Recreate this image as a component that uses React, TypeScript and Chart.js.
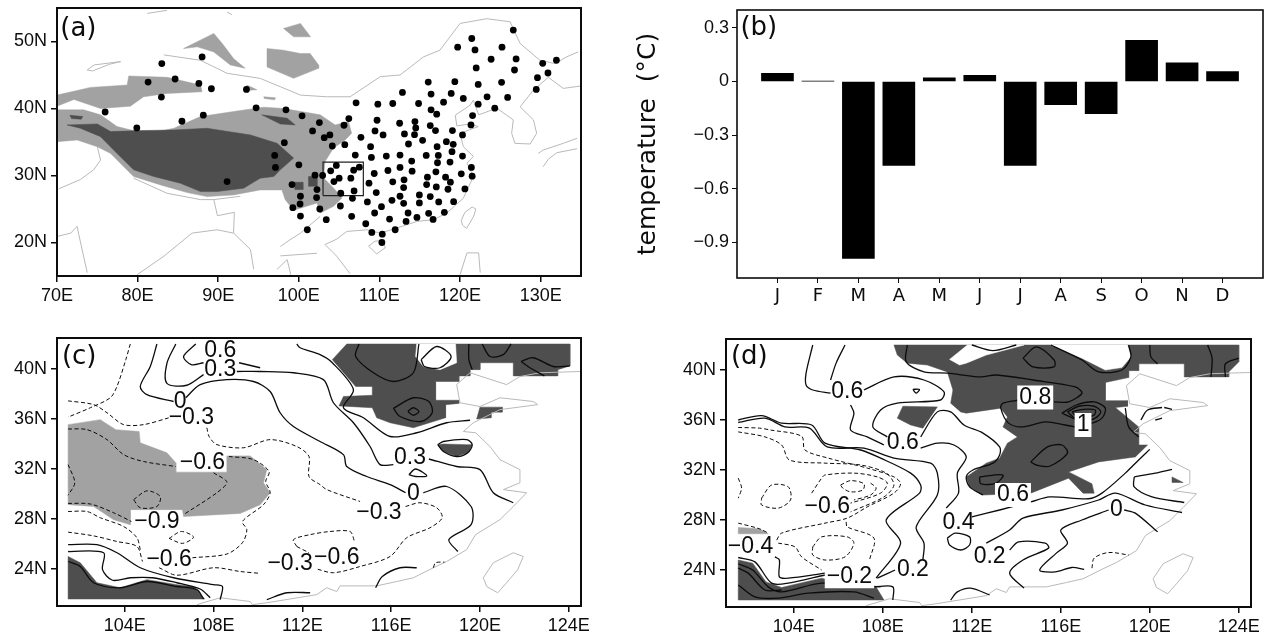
import React, { useEffect, useRef } from "react";
import { Chart, registerables } from "chart.js";
Chart.register(...registerables);

type P = [number, number];
type Note = { x: number; y: number; t: string; box?: boolean; tag?: boolean };

// ---------- panel (a): stations ----------
const stations: P[] = [
  [75.97,39.48],[79.9,37.1],[83,46.7],[81.3,43.95],[84.65,44.4],[82.95,41.7],[88,47.7],[87.6,43.75],[89.15,42.95],[93.5,42.85],
  [94.7,40.1],[85.5,38.1],[88.15,39],[91.1,29.1],[98.4,39.8],[100.4,38.9],[101.7,36.65],[102.55,37.9],[98.2,34.9],[97,33],
  [97.1,31.2],[100,31.6],[102,30.05],[99.15,28.65],[102.25,27.9],[100.2,26.9],[102.2,26.7],[100.15,25.75],[99.25,25.2],[102.6,25],
  [100.2,23.95],[101.05,21.9],[103.15,35.65],[103.85,36.05],[105.6,37.5],[106.2,38.5],[104.15,34.4],[105.7,34.6],[107.1,40.85],
  [109.8,40.65],[111.65,40.75],[112.85,42.4],[114.85,40.75],[116.05,43.95],[116.4,42.15],[119.35,44],[118.9,42.25],[117.95,40.95],
  [120.4,41.5],[122.25,43.6],[122,46.05],[121.85,48.75],[121.45,50.45],[119.7,49.15],[126.6,51.7],[125.2,49.15],[123.85,47.35],
  [126.95,47.4],[126.75,45.75],[125.15,43.9],[123.35,41.75],[122.25,40.65],[125.9,41.65],[124.3,40.05],[130.25,46.75],[131.95,47.2],
  [130.9,45.3],[129.6,44.6],[129.45,42.85],[116.4,39.8],[117.1,39.15],[121.55,38.95],[121.35,37.55],[120.3,36.05],[119.05,36.7],
  [109.7,38.25],[112.5,37.8],[114.4,38.05],[114.5,37.1],[116.3,37.45],[116.95,36.7],[109.45,36.65],[110.45,36.05],[113.1,36.2],
  [114.35,36.1],[107.7,35.7],[113.6,34.7],[115.35,35.25],[118.3,35.05],[119.15,34.65],[119,33.55],[117.15,34.3],[108.9,34.3],
  [107,33.05],[109,32.7],[110.85,32.9],[112.55,33.05],[115.8,33],[117.3,33],[117.2,31.9],[120.3,32.9],[114,32.15],[118.75,32],
  [121.4,31.2],[104.65,31.5],[103.95,30.7],[106.8,30.8],[107.5,31.25],[102.95,30],[105,29.6],[104.35,29.1],[106.45,29.6],[109.35,30.3],
  [111.05,30.75],[112.55,31.2],[114.05,30.65],[117,30.55],[120.15,30.25],[121.5,29.9],[115.95,29.75],[118.2,29.75],[118.8,29],
  [113.05,29.35],[108.7,28.85],[111.65,29.05],[115.85,28.65],[117.05,28.3],[113,28.2],[118.5,27.95],[120.6,28],[105.2,27.35],
  [106.85,27.7],[109.6,27.45],[106.65,26.6],[114.95,27.1],[116.3,26.85],[112.55,26.9],[111.55,26.3],[108.5,26.05],[113,25.85],
  [114.95,25.9],[117.35,26.05],[119.2,26.1],[110.25,25.35],[105.15,25.45],[109.4,24.4],[113.55,24.4],[116.1,24.35],[118.05,24.5],
  [106.55,23.9],[103.4,23.4],[111.25,23.5],[114.65,23.75],[113.3,23.15],[116.65,23.45],[108.3,22.8],[111.95,21.9],[109.05,21.5],
  [110.35,21.25],[110.3,20],
];
const studyBox: P[] = [[103,27],[108,27],[108,32],[103,32],[103,27]];

const lightA: P[][] = [
  [[70,39.8],[73.3,39.8],[75.4,39.05],[77.45,37.3],[81.2,36.2],[84.5,37.05],[87.8,38.8],[91.9,39.55],[95.65,40.2],[98.1,40],[102.65,39.05],[104.5,37.55],[106.15,38.05],[106.55,36.3],[105.75,35.3],[104.3,34.1],[103.25,32.1],[103.05,29.65],[104.3,28.15],[105.35,26.65],[104.3,25.4],[102.65,24.4],[102.25,25.9],[99.35,24.8],[98.3,26.4],[97.9,27.85],[95.2,27.85],[91.9,27.1],[88.6,26.85],[86.15,27.45],[82.85,28.6],[79.5,29.85],[76.65,33.3],[75,34.3],[72.5,35.3],[70,35.05]],
  [[70,42],[74.15,43.15],[78.7,43.5],[78.9,44.85],[83.65,44.65],[87.8,43.5],[88,42.5],[83.65,42.25],[80.75,41.75],[79.1,40.35],[75.4,40],[72.1,41.35],[70,40.35]],
  [[85.7,48.95],[89.45,51.2],[90.5,49.7],[91.9,47.45],[93.35,46],[91.5,46.5],[89.45,48.45],[87.4,49.2]],
  [[96.05,48.95],[98.1,48.7],[100.2,48.2],[101.4,48.2],[102.45,46.5],[102.45,46],[99.35,44.5],[96.05,46.2]],
  [[98.1,51.95],[100.2,52.7],[101.45,50.7],[99.35,50.7]],
  [[93.55,43.5],[94.8,42.8],[93.5,42.7]],
  [[95.65,41.75],[97.1,41.6],[97,41.3],[95.7,41.5]],
];
const darkA: P[][] = [
  [[71.25,37.55],[75,37.7],[76.65,36.55],[80.35,36.7],[84.5,36.8],[88.6,37.05],[94,36.05],[97.3,34.8],[99.35,32.6],[97.7,30.85],[96.9,29.85],[95.2,29.6],[93.15,28.1],[89.85,27.6],[87.8,27.6],[85.3,28.85],[82,29.85],[79.5,30.85],[77.45,33.3],[75.4,35.8],[72.9,37.05]],
  [[95.4,39.05],[98.55,38.55],[99.55,37.55],[97.7,37.7]],
  [[101.2,29.85],[102.25,29.85],[102.25,28.4],[101.2,28.4]],
  [[99.5,29],[100.5,29],[100.5,27.9],[99.5,27.9]],
  [[71.6,39],[73.2,38.8],[73,38.4],[71.8,38.5]],
];
const coastA: P[][] = [
  [[106.35,15.35],[104.7,17.95],[103.25,19.7],[104.7,20.5],[105.95,21.65],[108.45,21.9],[110.1,21.4],[112.15,22.15],[114.65,23.15],[116.7,23.4],[118.35,24.4],[120.4,26.6],[121.65,29.85],[120.85,31.85],[121.65,32.85],[120.4,34.3],[120,36.3],[122.25,37.3],[121.25,37.7],[119.6,37.4],[119.4,39],[121.25,40.5],[121.65,41.25],[122.3,39.05],[124.55,40.05],[126.6,38.3],[126.4,36.3],[126.8,34.8],[128.7,34.7],[129.5,36.3],[129.1,38.3],[127.45,40.25],[129.1,42.75],[130.95,44.65],[132.8,43],[134.9,43.35]],
  [[120.15,23.3],[120.6,24.5],[121.5,25.3],[121.95,25],[121.7,23.95],[121.2,22.9],[120.8,22.1],[120.3,22.6],[120.15,23.3]],
  [[108.65,19.45],[109.45,20.2],[110.5,20.3],[110.7,19.2],[109.65,18.3],[108.65,19.45]],
  [[120,15.2],[120.85,18.45],[122.3,18.45],[122.5,15.5]],
  [[70.2,28],[72.9,29.4],[74.55,30.85],[75.4,32.3],[75,34.3]],
  [[79.5,29.6],[83.65,27.35],[87.8,26.4],[89.45,26.4],[92.75,26.9]],
  [[79.95,15.2],[83.25,17.95],[86.75,21.4],[89.85,21.9],[91.9,21.4],[94,18.95],[94.4,16]],
  [[97.3,16],[98.55,17.45],[99,15.2]],
  [[70,20.9],[71.7,21.4],[72.5,22.4],[72.7,21.2],[73.75,15.5]],
  [[89.45,26.4],[89.9,24],[92,24.5],[91.9,21.4]],
  [[97.7,19.4],[98.9,20.4],[100.2,21.4],[102.65,23.9]],
  [[97.7,18],[102.25,18.4]],
  [[73.75,45.75],[74.6,46.5],[77.9,47],[76.5,46.6],[74.4,45.6],[73.75,45.75]],
  [[81.2,54.2],[83.65,54.65]],
  [[91.1,54.4],[91.7,54]],
  [[83.25,48],[87.8,47.2],[91.1,45.25],[95.2,44.5],[100.2,42],[103.45,41.75],[106.35,41.75],[110.1,44.75],[112.55,45],[115.45,47.7],[117.5,48.7],[120,52.7],[123.3,53.4],[126.2,52.95],[127.45,49.7],[129.9,47.2],[131.8,46.7],[133.2,47.7],[134.65,48.45]],
  [[129.7,33.3],[130.3,33.8],[132.8,34.8],[134.5,35.55]],
  [[130.3,31.3],[131,32.5],[132,33.4],[134.5,34]],
];

// ---------- panel (b): monthly anomaly ----------
const monthLabels = ["", "J", "F", "M", "A", "M", "J", "J", "A", "S", "O", "N", "D", ""];
const monthValues = [null, 0.045, 0.002, -0.99, -0.47, 0.02, 0.035, -0.47, -0.13, -0.18, 0.23, 0.105, 0.055, null];
const barTicks = [0.3, 0, -0.3, -0.6, -0.9];

// ---------- shared map lines for (c), (d) ----------
const coastZoom: P[][] = [
  [[107.25,21.15],[108.3,21.7],[109.65,21.4],[109.75,21.15],[110.4,21.3],[112.65,21.95],[113.1,22.5],[113.55,22.2],[113.7,22.65],[115.35,22.65],[116.25,23],[117,23.3],[117.9,24.1],[118.5,24.6],[119.4,25.55],[119.8,26.75],[120.9,27.95],[121.5,29],[122.1,30.1],[121.05,30.35],[121.8,30.9],[121.8,31.95],[120.9,32.75],[120.45,33.8],[119.8,34.9],[119.25,35],[119.7,35.7],[120.9,36.75],[122.6,37.15],[122.4,37.4],[120.9,37.7],[120,37],[119.1,37.3],[118.95,38.75],[119.55,39.7],[121.2,38.75],[121.8,39.4],[122.7,39.7],[124.5,39.8]],
  [[120.15,23.3],[120.6,24.5],[121.5,25.3],[121.95,25],[121.7,23.95],[121.2,22.9],[120.8,22.1],[120.3,22.6],[120.15,23.3]],
];

// ---------- panel (c) ----------
const lightC: P[][] = [
  [[101.45,35.55],[102.9,35.95],[103.6,35.15],[104.65,35],[104.7,34.1],[105.9,33.3],[106.3,32.5],[106.3,31.75],[108.6,31.75],[108.6,33.05],[109.65,33.05],[110.4,31.95],[110.25,30.9],[110.55,30.1],[110.1,29.15],[109.2,28.45],[106.65,28.2],[106.6,28.75],[104.25,28.75],[104.25,27.55],[103.5,27.95],[102.6,29],[101.45,29.15]],
];
const darkC: P[][] = [
  [[101.45,25],[102,24.5],[102.75,22.9],[103.8,22.5],[105,23.15],[106.35,22.75],[107.1,22.6],[107.6,21.6],[101.45,21.6]],
  [[114,42],[124.05,42],[124.05,40.25],[123.5,39.95],[123.5,39.45],[121.5,39.45],[121.5,40.5],[120,40.5],[120,39.95],[119.55,39.95],[119.55,39.45],[119.05,39.45],[119.05,39],[118,39],[118,37.5],[119.05,37.5],[119.05,37.25],[118.45,37.15],[118.45,36.1],[117,35.3],[115.95,35.7],[115.35,36.1],[115.15,36.9],[113.65,37.05],[113.85,37.8],[115.15,37.9],[115.15,38.6],[114.4,38.6],[113.35,40.75]],
  [[120,36.95],[121,36.95],[121,36.55],[120.5,36.55],[120.5,36.1],[119.85,36]],
  [[118.1,33.95],[118.35,34],[119.4,33.95],[119.65,33.95],[119.45,33.3],[118.95,33],[118.35,33.4]],
];
const holesC: P[][] = [
  [[117.15,42],[117.1,41],[117.45,40.2],[118.2,39.95],[118.95,40.5],[118.9,42]],
];
const solidC: P[][] = [
  [[105.45,42],[105.15,40.2],[104.7,38.6],[105,37.95],[106.2,37.4]],
  [[106.75,37.7],[107.4,38.75],[108.6,39.15],[109.8,39],[110.55,38.2],[111,36.5],[111.6,35.4],[112.8,34.2],[113.85,33.15],[114,32.2],[114.9,31.4],[115.95,30.75],[116.65,30.1]],
  [[117.45,30.1],[118.5,30.6],[119.6,29],[119.6,27.55],[118.6,26.35],[119,25.4]],
  [[106.3,42],[105.9,40.45],[105.9,38.85],[106.8,38.7],[107.55,39.55]],
  [[109.05,39.8],[110.1,39.8],[111.6,39.7],[112.95,39.15],[113.4,37.3],[114.3,35.7],[115.05,33.8],[115.5,32.35],[116.1,32.35]],
  [[117.7,32.8],[118.95,32.2],[120,31.95],[120.6,30.1],[121.5,29.3]],
  [[107.2,42],[106.65,41],[107,40.35],[107.55,40.5]],
  [[109.15,40.5],[110.1,40.1]],
  [[111.75,42],[111.9,41.7],[112.8,41.15],[113.35,40.5],[114.3,38.35],[113.85,36.9],[114.75,36.1],[115.95,34.6],[117.15,34.9],[118.5,35.7],[119.55,35.9]],
  [[114.55,42],[114.4,41],[115.2,39.7],[116.1,39],[117,39.7],[117.25,42]],
  [[116.1,36.85],[117,37.7],[117.7,37.4],[117.85,36.5],[117.35,35.8],[116.4,36.2],[116.1,36.85]],
  [[116.75,36.6],[117,36.9],[117.25,36.6],[117,36.3],[116.75,36.6]],
  [[117.35,40.75],[118.05,41.8],[118.7,41],[118.2,40.1],[117.5,40.2],[117.35,40.75]],
  [[119.5,42],[119.5,40.75],[119.65,39.95]],
  [[120.1,42],[120.45,41],[121.05,41.15],[121.4,42]],
  [[121.85,40.6],[122.4,40.9],[123.3,40.2],[124.05,40.25]],
  [[121.85,40.6],[122.25,40.1],[122.9,39.45]],
  [[118.1,33.95],[118.35,34.2],[119.4,34.35],[119.65,33.95],[119.45,33.3],[118.95,33],[118.35,33.4],[118.1,33.95]],
  [[116.8,31.55],[117.1,32],[117.6,31.45],[117.1,31.4],[116.8,31.55]],
  [[115.3,22.5],[115.6,23.4],[116.4,24.1],[117.15,24.1]],
  [[101.45,25.4],[103.05,25.3],[103,23.95],[103.45,23.1],[104.25,23.3],[105.25,23.3],[106.35,22.9],[107.4,22.4],[107.85,21.7]],
  [[101.45,25.95],[102.75,25.95],[103.65,25.3],[104.7,24.1],[106.2,23.3],[108,22.75],[108.4,22.6],[108.3,21.55]],
  [[101.45,24.6],[102,24.2],[102.6,22.9],[103.8,22.5],[105,23],[106.35,22.6],[107.25,22.35],[107.55,21.6]],
  [[110.4,21.55],[111.3,22.1],[112.35,22.1]],
];
const dashedC: P[][] = [
  [[104.25,42],[104.05,40.75],[103.65,38.6],[103.35,37.7],[102.45,36.9],[101.45,36.15]],
  [[101.45,37.45],[102.6,37.15],[103.2,36.5],[103.95,35.55],[104.85,35.55],[106,36.1]],
  [[107.7,35.3],[107.8,34.6],[108.15,33.95],[109.35,33.7],[110.55,34.35],[111.75,33.8],[112.3,33],[112.3,31.4],[112.8,30.75],[113.1,30.35],[114.6,29.4]],
  [[116.65,29],[117.3,29.3],[118.05,28.9],[118.3,28.1],[117.75,27.3],[116.7,26.5],[115.95,25],[114.6,24.2],[113.4,23.7],[112.65,24]],
  [[111.75,25.8],[111.6,26.35],[112.35,26.75],[113.25,27],[114.15,27],[114.35,26.2]],
  [[111.75,25.8],[112.3,25.3]],
  [[101.45,26.95],[102.6,26.65],[103.65,26.2],[104.55,25.8],[104.8,24.6]],
  [[107.05,24.9],[108.6,25.2],[109.3,26.1],[109.5,27.15],[109.3,27.8],[110.25,29.15],[110.55,30.1],[110.35,31],[110.5,31.8],[109.8,32.75],[108.7,33]],
  [[101.45,28.6],[102.3,28.6],[102.9,28.1],[103.95,27.4],[104.55,26.5],[104.7,25.55]],
  [[105.55,24.1],[106.35,23.5],[108,24.1],[109.2,23.8],[110.1,23.65]],
  [[101.45,35.2],[102.3,35.15],[103.2,34.35],[103.95,33.15],[104.85,32.6],[106.3,32.2]],
  [[108,31.7],[108.6,30.95],[108.15,30.1],[106.65,28.35]],
  [[101.45,29.25],[102.45,29.2],[103.5,28.5],[104.3,27.8]],
  [[104.4,29.55],[105,30.25],[105.6,29.8],[105.45,29],[104.7,28.9],[104.4,29.55]],
  [[101.45,32.35],[101.75,30.9],[101.45,29.9]],
  [[106,26.45],[106.55,27],[107.1,26.55],[106.6,26.05],[106,26.45]],
  [[117.9,24.1],[118,24.5],[118.4,24.55]],
];
const notesC: Note[] = [
  { x: 101.95, y: 40.95, t: "(c)", tag: true },
  { x: 108.3, y: 41.5, t: "0.6" },
  { x: 108.3, y: 39.95, t: "0.3" },
  { x: 106.5, y: 37.4, t: "0" },
  { x: 107, y: 36.1, t: "−0.3" },
  { x: 107.5, y: 32.5, t: "−0.6" },
  { x: 105.45, y: 27.75, t: "−0.9" },
  { x: 106, y: 24.75, t: "−0.6" },
  { x: 111.45, y: 24.4, t: "−0.3" },
  { x: 113.55, y: 24.9, t: "−0.6" },
  { x: 115.45, y: 28.5, t: "−0.3" },
  { x: 117, y: 30, t: "0" },
  { x: 116.85, y: 32.9, t: "0.3" },
];

// ---------- panel (d) ----------
const lightD: P[][] = [
  [[101.5,27.4],[102.45,27.3],[102.85,26.9],[101.5,26.9]],
];
const darkD: P[][] = [
  [[108.5,42],[124,42],[124,40.65],[123.55,39.85],[123.55,39.45],[121.55,39.45],[121.55,40.5],[119.5,40.5],[119.5,39.95],[119.05,39.95],[119.05,39.4],[118,39],[118,37.55],[119,37.55],[119,37.1],[118.45,37],[119.5,35.45],[119.5,34],[119.9,34],[119.35,33.05],[118.75,32.9],[117.7,32.65],[116.35,31.85],[117.4,30.9],[117.5,30.15],[117,30.15],[116.35,31.35],[114.65,30.15],[112.5,30],[111.9,30.65],[111.75,31.45],[112.65,32.55],[113.25,32.95],[113.6,34.15],[114.05,34.65],[113.4,35.45],[113.6,36.25],[113.3,36.95],[111.75,36.55],[111.5,36.65],[111.05,37.35],[111.15,38.4],[110.9,39.85],[110,40.4],[109.1,40.55],[108.65,41.2]],
  [[108.9,37.1],[110.45,37.05],[109.8,35.35],[109.25,35.6],[108.65,36.15]],
  [[121,31.45],[121.5,31],[121,31]],
  [[101.5,24.8],[102.15,24.55],[102.75,23.05],[103.45,22.6],[105.25,23.35],[106.1,22.95],[107.7,22.65],[108.05,21.6],[101.5,21.6]],
];
const holesD: P[][] = [
  [[111,40.85],[111.8,42],[114.35,42],[112.65,41.2],[111.75,40.55],[111.45,40.4]],
  [[115.55,42],[116.95,40.95],[118,40],[118.75,40.2],[119.15,41.05],[119,42]],
];
const solidD: P[][] = [
  [[104.85,42],[104.55,39.75],[104.55,38.8],[104.85,38.4],[105.65,38.15]],
  [[106.3,42],[105.9,40.55],[105.65,39.2]],
  [[106.55,37.2],[106.7,36.55],[106.55,35.2],[107.3,34.65],[108.05,34]],
  [[107.15,38.4],[108.5,39.45],[109.85,39.2],[110.75,38.25],[110.6,37.6],[108.65,37.35],[107.9,36.8],[107.55,35.45],[108.2,34.65]],
  [[109.7,34.65],[110.45,36.65],[111.05,36.65],[111.65,35.6],[112.5,34.95],[113.25,33.85],[113.25,33.2],[112.95,32.55],[112.05,32],[111.75,31.45],[111.9,30.65],[112.5,30]],
  [[109.7,33.75],[110.45,34.15],[111.2,34],[111.75,33.05],[111.35,31.75],[111.4,30.15],[110.85,28.95]],
  [[109.35,38.45],[109.65,38.45],[109.5,38.15],[109.35,38.45]],
  [[101.5,36],[102.55,36.35],[103.45,35.75],[104.8,35.6],[105.4,34.15],[107,33.6],[107.9,32.95],[109.25,31.75],[109.7,30.8],[109.65,30.15],[108.15,28],[108.8,26.15],[107.7,23.35]],
  [[101.5,35.8],[102.7,36.15],[103.6,35.45],[104.7,35.35],[105.5,33.85],[107.15,33.75],[108.5,32.95],[110.15,32.55],[110.45,31.75],[110.45,30],[109.5,27.45],[109.85,26.15],[109.8,24.8]],
  [[103.15,25.05],[103.35,24.8],[103.35,23.45],[103.75,23.35],[105.4,23.75]],
  [[101.5,25],[102.25,24.65],[103,22.95],[103.75,22.95],[105.4,23.6]],
  [[101.5,24.5],[102.15,24],[102.85,22.65],[103.45,22.25],[105.25,22.95],[107.9,22.65]],
  [[101.5,22.8],[102.25,21.85],[103.3,21.75],[104.65,22.15],[106.7,22.25],[107.6,21.75]],
  [[101.5,24.15],[101.95,23.75],[102.7,22.4],[103.45,22.4]],
  [[107.6,22.65],[108.45,22.65],[108.45,21.6]],
  [[107.75,23.35],[108.55,24]],
  [[111.05,21.6],[111.35,22.25],[111.95,22.55],[112.8,22]],
  [[109.1,42],[109.05,40.65],[109.85,39.85],[110.9,39.75],[112.4,39.45],[113.1,39.6],[114.75,39.2],[116.65,38.65],[116.95,38.15],[116.35,37.45],[115.7,37.45]],
  [[114.15,37.6],[113.4,37.35],[113.3,36.95],[113.65,35.75],[114.3,35.45],[115.3,35.85],[116.2,35.6],[116.75,35.4]],
  [[112,42],[112.95,41.55],[114,42]],
  [[114.3,40.95],[114.9,41.85],[115.7,40.8],[115.7,40.25],[114.75,40.25],[114.3,40.95]],
  [[115.55,42],[116.95,40.8],[117.7,39.85],[118.75,40],[119.15,41.05],[119.05,42]],
  [[120,42],[120.05,41.05],[120.35,40.5]],
  [[122.6,42],[122.8,40.95],[122.75,39.45]],
  [[123.4,39.45],[123.4,40.5],[124,40.95]],
  [[116.05,36.55],[116.7,37.2],[117.5,37.45],[118,36.95],[117.85,36.15],[117.35,35.75],[116.75,36],[116.05,36.55]],
  [[116.3,36.65],[116.8,37.1],[117.5,37.1],[117.8,36.65],[117.55,36.15],[117.2,36],[116.6,36.2],[116.3,36.65]],
  [[116.5,36.65],[117,36.85],[117.55,36.8],[117.5,36.4],[117.05,36.2],[116.7,36.3],[116.5,36.65]],
  [[114.65,32.65],[115.4,33.85],[116.05,34],[116.3,33.35],[115.5,32.3],[114.9,32.4],[114.65,32.65]],
  [[112.35,31.45],[113.4,31.6],[113.1,30.95],[112.4,30.9],[112.35,31.45]],
  [[118.9,36.95],[119.05,35.45],[119.5,34.65]],
  [[114.65,29.45],[115.5,29.85],[117.25,29.7],[117.85,30.15],[118.9,31.75],[119.5,32.8],[120,33.65]],
  [[112,28.25],[113.25,28.8],[114.65,29.45]],
  [[112.65,26.15],[113.7,27.2],[114.3,28.15],[116.05,28.8],[117.7,29.6],[118.45,30.15],[119.8,29.2],[121.45,28.6]],
  [[118.15,28.8],[116.95,28],[116,27.2],[116.3,26.15],[115.8,25.35],[115.05,24],[115.75,23.85],[116.5,24.2],[117.05,24.05]],
  [[118.85,28.8],[119.35,28.55],[120.35,27.05]],
  [[113.7,25.6],[114.1,26.25],[115.3,26.15],[115.45,25.75],[114.3,24.8],[113.7,23.75],[114.35,22.55]],
  [[119.3,31.45],[119.3,30.65],[120.1,29.85],[121.55,29.4]],
  [[119.3,31.45],[120.25,31.75],[121,32.05]],
  [[119.6,36],[119.9,36.8],[120.55,37]],
  [[120.25,36],[120.55,36.15]],
  [[120.65,37],[121,36.85]],
  [[110.9,26.55],[111.25,26.95],[111.9,26.65],[111.9,26],[111.5,25.6],[111,26],[110.9,26.55]],
];
const dashedD: P[][] = [
  [[101.5,35.4],[102.45,35.35],[102.95,35.2],[104.35,34.7],[104.5,33.6],[105.55,32.95],[107.3,32.15],[108.5,31.45],[108.8,30.9],[108.5,30.15],[107.3,29.05],[106.4,28.15],[105.4,27.75],[103.45,26.95],[103.2,26.3]],
  [[101.5,35.05],[102.7,34.65],[103.45,34],[103.8,32.8],[105.4,32.55],[107,32.4],[108.15,31.75],[108.5,30.8],[108.05,29.85],[106.55,28.65]],
  [[104.8,30.15],[105.25,31.35],[105.4,31.6],[106.7,31.75],[107.75,31.45],[108.2,30.95],[107.9,30.15],[106.55,29.35]],
  [[106.1,30.8],[106.55,31.15],[107.15,30.9],[107.1,30.4],[106.55,30.25],[106.2,30.55],[106.1,30.8]],
  [[107.45,30.95],[107.7,30.55],[107.45,30],[106.7,29.6]],
  [[102.55,29.75],[103,30.8],[103.75,30.65],[103.85,29.6],[103.3,28.95],[102.55,29.2],[102.55,29.75]],
  [[101.5,31.35],[101.65,30.55],[101.5,29.75]],
  [[101.5,27.75],[102.45,27.3],[102.85,26.95]],
  [[104.85,25.85],[105.25,26.65],[106.4,26.65],[106.7,26.15],[106.3,25.05],[105.4,24.8],[104.85,25.2],[104.85,25.85]],
  [[106.35,27.85],[106.4,27.45],[107.6,26.55],[107.4,24.8]],
  [[103.3,26.15],[104.05,25.85],[104.35,25.05],[105.25,24]],
  [[117.4,24.15],[117.5,24.95],[118.15,25.4],[119.05,25.2]],
];
const notesD: Note[] = [
  { x: 102, y: 41, t: "(d)", tag: true },
  { x: 106.4, y: 38.25, t: "0.6" },
  { x: 108.9, y: 34.15, t: "0.6" },
  { x: 105.5, y: 29.1, t: "−0.6" },
  { x: 111.4, y: 27.8, t: "0.4" },
  { x: 102.05, y: 25.85, t: "−0.4" },
  { x: 106.5, y: 23.5, t: "−0.2", box: true },
  { x: 109.35, y: 24, t: "0.2" },
  { x: 114.85, y: 37.8, t: "0.8", box: true },
  { x: 117, y: 35.6, t: "1", box: true },
  { x: 113.85, y: 30, t: "0.6", box: true },
  { x: 118.5, y: 28.8, t: "0" },
  { x: 112.8, y: 25.1, t: "0.2" },
];

const notesA: Note[] = [{ x: 72.65, y: 51.9, t: "(a)", tag: true }];
const notesB: Note[] = [{ x: 0.54, y: 0.3, t: "(b)", tag: true }];

const LIGHT = "#a2a2a2";
const DARK = "#4e4e4e";
const COAST = "#b9b9b9";
const INK = "#0c0c0c";
const TICK_FONT = { family: "'Liberation Sans'", size: 18 };

const toXY = (pts: P[]) => pts.map(([x, y]) => ({ x, y }));
const line = (pts: P[], color: string, width: number, dash: number[] = [], tension = 0) => ({
  data: toXY(pts), showLine: true, pointRadius: 0, borderColor: color, borderWidth: width, borderDash: dash, fill: false, tension,
});
const poly = (pts: P[], color: string) => ({
  data: toXY([...pts, pts[0]]), showLine: true, pointRadius: 0, borderColor: color, backgroundColor: color, borderWidth: 0.5, fill: "shape", tension: 0,
});

const chartPlugin = (notes: Note[], frame: number) => ({
  id: "notesAndFrame",
  afterDatasetsDraw(chart: any) {
    const { ctx, scales } = chart;
    const xs = scales.x;
    const ys = scales.y;
    ctx.save();
    notes.forEach((n) => {
      const px = xs.type === "category" ? xs.left + (xs.width * n.x) / 13 : xs.getPixelForValue(n.x);
      const py = ys.getPixelForValue(n.y);
      ctx.font = n.tag ? "26px 'DejaVu Sans'" : "23px 'Liberation Sans'";
      ctx.textAlign = "center";
      ctx.textBaseline = "middle";
      if (n.box) {
        const w = ctx.measureText(n.t).width;
        ctx.fillStyle = "#fff";
        ctx.fillRect(px - w / 2 - 2, py - 12, w + 4, 24);
      }
      ctx.fillStyle = INK;
      ctx.fillText(n.t, px, py);
    });
    const a = chart.chartArea;
    ctx.strokeStyle = INK;
    ctx.lineWidth = frame;
    ctx.strokeRect(a.left, a.top, a.right - a.left, a.bottom - a.top);
    ctx.restore();
  },
});

type Box = { cx: number; cy: number; cw: number; ch: number; left: number; top: number; right: number; bottom: number };

const fitX = (b: Box) => (s: any) => { s.height = b.cy + b.ch - b.bottom; s.paddingLeft = 0; s.paddingRight = 0; };
const fitY = (b: Box) => (s: any) => { s.width = b.left - b.cx; s.paddingTop = 0; s.paddingBottom = 0; };

const mapConfig = (b: Box, layers: any[], xr: P, yr: P, xt: number[], yt: number[], notes: Note[]) => ({
  type: "scatter",
  data: { datasets: [...layers].reverse() },
  plugins: [chartPlugin(notes, 2)],
  options: {
    animation: false, responsive: false, events: [],
    layout: { padding: { left: 0, top: b.top - b.cy, right: b.cx + b.cw - b.right, bottom: 0 } },
    plugins: { legend: { display: false }, tooltip: { enabled: false }, title: { display: false } },
    scales: {
      x: {
        type: "linear", min: xr[0], max: xr[1],
        afterBuildTicks: (s: any) => { s.ticks = xt.map((value) => ({ value })); },
        afterFit: fitX(b),
        grid: { display: true, drawOnChartArea: false, drawTicks: true, tickLength: 6, tickColor: INK, lineWidth: 1.5 },
        border: { display: false },
        ticks: { autoSkip: false, maxRotation: 0, padding: 3, color: INK, font: TICK_FONT, callback: (v: any) => `${v}E` },
      },
      y: {
        type: "linear", min: yr[0], max: yr[1],
        afterBuildTicks: (s: any) => { s.ticks = yt.map((value) => ({ value })); },
        afterFit: fitY(b),
        grid: { display: true, drawOnChartArea: false, drawTicks: true, tickLength: 6, tickColor: INK, lineWidth: 1.5 },
        border: { display: false },
        ticks: { autoSkip: false, padding: 4, color: INK, font: TICK_FONT, callback: (v: any) => `${v}N` },
      },
    },
  },
});

const boxA: Box = { cx: 0, cy: 0, cw: 630, ch: 308, left: 57, top: 8, right: 581, bottom: 276 };
const boxB: Box = { cx: 630, cy: 0, cw: 636, ch: 308, left: 737, top: 10, right: 1263, bottom: 278 };
const boxC: Box = { cx: 0, cy: 330, cw: 630, ch: 304, left: 57, top: 338, right: 581, bottom: 606 };
const boxD: Box = { cx: 680, cy: 330, cw: 586, ch: 304, left: 726, top: 339, right: 1251, bottom: 607 };

const SMOOTH = 0.3;
const DASH = [4, 2.5];

const layersA = [
  ...lightA.map((p) => poly(p, LIGHT)),
  ...darkA.map((p) => poly(p, DARK)),
  ...coastA.map((p) => line(p, COAST, 1)),
  line(studyBox, "#222", 1.2),
  { data: toXY(stations), showLine: false, pointRadius: 3.4, pointBackgroundColor: "#000", pointBorderWidth: 0 },
];
const layersC = [
  ...lightC.map((p) => poly(p, LIGHT)),
  ...darkC.map((p) => poly(p, DARK)),
  ...holesC.map((p) => poly(p, "#fff")),
  ...coastZoom.map((p) => line(p, COAST, 1)),
  ...solidC.map((p) => line(p, INK, 1.3, [], SMOOTH)),
  ...dashedC.map((p) => line(p, INK, 1, DASH, SMOOTH)),
];
const layersD = [
  ...lightD.map((p) => poly(p, LIGHT)),
  ...darkD.map((p) => poly(p, DARK)),
  ...holesD.map((p) => poly(p, "#fff")),
  ...coastZoom.map((p) => line(p, COAST, 1)),
  ...solidD.map((p) => line(p, INK, 1.3, [], SMOOTH)),
  ...dashedD.map((p) => line(p, INK, 1, DASH, SMOOTH)),
];

const barConfig = (b: Box) => ({
  type: "bar",
  data: { labels: monthLabels, datasets: [{ data: monthValues, backgroundColor: "#000", barThickness: 32 }] },
  plugins: [chartPlugin(notesB, 1.6)],
  options: {
    animation: false, responsive: false, events: [],
    layout: { padding: { left: 0, top: b.top - b.cy, right: b.cx + b.cw - b.right, bottom: 0 } },
    plugins: { legend: { display: false }, tooltip: { enabled: false } },
    scales: {
      x: {
        offset: false,
        afterFit: fitX(b),
        grid: {
          display: true, offset: false, drawOnChartArea: false, drawTicks: true, tickLength: 5,
          tickColor: (c: any) => (c.index === 0 || c.index === monthLabels.length - 1 ? "rgba(0,0,0,0)" : INK),
        },
        border: { display: false },
        ticks: { autoSkip: false, maxRotation: 0, padding: 3, color: INK, font: { family: "'DejaVu Sans'", size: 18 } },
      },
      y: {
        type: "linear", min: -1.1, max: 0.4,
        afterBuildTicks: (s: any) => { s.ticks = barTicks.map((value) => ({ value })); },
        afterFit: fitY(b),
        grid: { display: true, drawOnChartArea: false, drawTicks: true, tickLength: 5, tickColor: INK },
        border: { display: false },
        title: { display: true, text: "temperature  (°C)", color: INK, font: { family: "'DejaVu Sans'", size: 25 }, padding: { top: 3, bottom: 0 } },
        ticks: { autoSkip: false, padding: 3, color: INK, font: TICK_FONT, callback: (v: any) => (v === 0 ? "0" : `${v < 0 ? "−" : ""}${Math.abs(v).toFixed(1)}`) },
      },
    },
  },
});

function Panel({ box, config }: { box: Box; config: any }) {
  const ref = useRef<HTMLCanvasElement | null>(null);
  useEffect(() => {
    const c = new Chart(ref.current as HTMLCanvasElement, config);
    return () => c.destroy();
  }, []);
  return (
    <canvas
      ref={ref}
      width={box.cw}
      height={box.ch}
      style={{ position: "absolute", left: box.cx, top: box.cy, width: box.cw, height: box.ch, display: "block" }}
    />
  );
}

const lonC: P = [100.95, 124.55];
const latC: P = [21.04, 42.48];
const lonTicks = [104, 108, 112, 116, 120, 124];
const latTicks = [24, 28, 32, 36, 40];

export default function App() {
  return (
    <div style={{ position: "absolute", left: 0, top: 0, width: 1266, height: 634, overflow: "hidden", background: "#fff" }}>
      <Panel box={boxA} config={mapConfig(boxA, layersA, [70, 135], [15, 55], [70, 80, 90, 100, 110, 120, 130], [20, 30, 40, 50], notesA)} />
      <Panel box={boxB} config={barConfig(boxB)} />
      <Panel box={boxC} config={mapConfig(boxC, layersC, lonC, latC, lonTicks, latTicks, notesC)} />
      <Panel box={boxD} config={mapConfig(boxD, layersD, lonC, latC, lonTicks, latTicks, notesD)} />
    </div>
  );
}
